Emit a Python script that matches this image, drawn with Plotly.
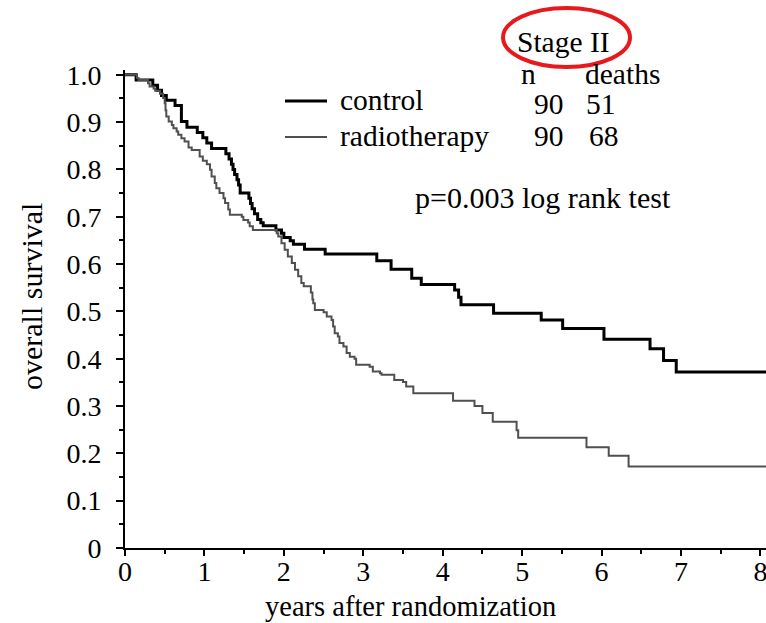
import plotly.graph_objects as go

# ---- data ----
control_t = [0, 0.14, 0.35, 0.41, 0.46, 0.52, 0.63, 0.71, 0.78, 0.91, 0.98, 1.03, 1.09,
             1.27, 1.31, 1.34, 1.36, 1.38, 1.41, 1.43, 1.45, 1.56, 1.58, 1.60, 1.63, 1.67,
             1.71, 1.74, 1.90, 1.97, 2.00, 2.08, 2.12, 2.26, 2.52, 3.17, 3.35, 3.61, 3.73,
             4.15, 4.20, 4.23, 4.64, 5.24, 5.51, 6.03, 6.61, 6.78, 6.94, 8.07]
control_s = [1.0, 0.989, 0.978, 0.967, 0.956, 0.946, 0.935, 0.901, 0.889, 0.878, 0.867, 0.856, 0.844,
             0.833, 0.822, 0.811, 0.800, 0.789, 0.778, 0.767, 0.750, 0.739, 0.728, 0.717, 0.706, 0.694,
             0.687, 0.681, 0.672, 0.665, 0.656, 0.649, 0.642, 0.631, 0.621, 0.607, 0.589, 0.570, 0.557,
             0.545, 0.530, 0.514, 0.496, 0.482, 0.464, 0.441, 0.421, 0.396, 0.372, 0.372]

radio_t = [0, 0.15, 0.17, 0.29, 0.31, 0.36, 0.38, 0.44, 0.48, 0.50, 0.51, 0.52, 0.55, 0.59, 0.61,
           0.65, 0.67, 0.71, 0.75, 0.80, 0.84, 0.94, 0.98, 1.03, 1.07, 1.09, 1.13, 1.15, 1.19,
           1.24, 1.26, 1.30, 1.32, 1.47, 1.49, 1.55, 1.57, 1.61, 1.91, 1.93, 1.97, 2.01, 2.05,
           2.10, 2.14, 2.18, 2.22, 2.25, 2.34, 2.36, 2.37, 2.39, 2.50, 2.54, 2.60, 2.62, 2.64,
           2.68, 2.70, 2.75, 2.79, 2.83, 2.89, 2.91, 3.08, 3.12, 3.21, 3.23, 3.39, 3.50, 3.54,
           3.63, 4.13, 4.40, 4.50, 4.63, 4.93, 4.95, 5.81, 6.09, 6.34, 8.07]
radio_s = [1.0, 0.993, 0.989, 0.982, 0.975, 0.971, 0.966, 0.960, 0.951, 0.940, 0.925, 0.912, 0.901,
           0.894, 0.887, 0.880, 0.873, 0.866, 0.859, 0.846, 0.841, 0.827, 0.818, 0.811, 0.799,
           0.785, 0.771, 0.760, 0.750, 0.739, 0.729, 0.715, 0.704, 0.700, 0.693, 0.688, 0.680,
           0.672, 0.665, 0.658, 0.644, 0.630, 0.616, 0.602, 0.588, 0.574, 0.560, 0.553, 0.540,
           0.525, 0.517, 0.503, 0.498, 0.489, 0.482, 0.468, 0.454, 0.447, 0.433, 0.426, 0.412,
           0.404, 0.400, 0.387, 0.383, 0.373, 0.369, 0.366, 0.355, 0.351, 0.341, 0.327, 0.311,
           0.300, 0.285, 0.267, 0.249, 0.233, 0.213, 0.195, 0.172, 0.172]

y_tickvals = [0, 0.1, 0.2, 0.3, 0.4, 0.5, 0.6, 0.7, 0.8, 0.9, 1.0]
y_ticktext = ["0", "0.1", "0.2", "0.3", "0.4", "0.5", "0.6", "0.7", "0.8", "0.9", "1.0"]
x_tickvals = [0, 1, 2, 3, 4, 5, 6, 7, 8]
x_ticktext = ["0", "1", "2", "3", "4", "5", "6", "7", "8"]

groups = ["control", "radiotherapy"]
n_vals = ["90", "90"]
deaths_vals = ["51", "68"]

FONT = "Liberation Serif"
W, H = 766, 623
L, R, T, B = 125, 0, 70, 75
RADIO_COLOR = "#505050"

def X(px):
    return (px - L) / (W - L - R)

def Y(py):
    return (H - B - py) / (H - T - B)

fig = go.Figure()
fig.add_trace(go.Scatter(x=control_t, y=control_s, mode="lines", line_shape="hv",
                         line=dict(color="black", width=3), showlegend=False))
fig.add_trace(go.Scatter(x=radio_t, y=radio_s, mode="lines", line_shape="hv",
                         line=dict(color=RADIO_COLOR, width=2), showlegend=False))

ann = []
def txt(s, x, y, xanchor="center", size=29.5, **kw):
    ann.append(dict(text=s, x=X(x), y=Y(y), xref="paper", yref="paper", showarrow=False,
                    xanchor=xanchor, yanchor="middle", font=dict(family=FONT, size=size, color="black"), **kw))

txt("Stage II", 563, 42)
txt("n", 528, 74)
txt("deaths", 622, 74)
txt(groups[0], 338, 100, xanchor="left")
txt(groups[1], 338, 136, xanchor="left")
txt(n_vals[0], 549, 104)
txt(deaths_vals[0], 601, 104)
txt(n_vals[1], 549, 136)
txt(deaths_vals[1], 604, 136)
txt("p=0.003 log rank test", 413, 197, xanchor="left", size=30)
txt("years after randomization", 410, 606, size=28.5)
txt("overall survival", 31, 297, size=30, textangle=-90)

shapes = [
    dict(type="line", xref="paper", yref="paper", x0=X(285), x1=X(327), y0=Y(101), y1=Y(101),
         line=dict(color="black", width=3)),
    dict(type="line", xref="paper", yref="paper", x0=X(285), x1=X(327), y0=Y(137), y1=Y(137),
         line=dict(color=RADIO_COLOR, width=2)),
    dict(type="circle", xref="paper", yref="paper", x0=X(503), x1=X(630), y0=Y(67), y1=Y(8),
         line=dict(color="#e8191c", width=4)),
]

fig.update_layout(
    width=W, height=H,
    margin=dict(l=L, r=R, t=T, b=B, pad=0),
    paper_bgcolor="white", plot_bgcolor="white",
    annotations=ann, shapes=shapes,
    xaxis=dict(range=[0, 8.07], tickvals=x_tickvals, ticktext=x_ticktext,
               showgrid=False, zeroline=False, showline=True, linecolor="black", linewidth=2,
               ticks="outside", ticklen=6, tickwidth=2, tickcolor="black",
               minor=dict(dtick=0.5, tick0=0, ticks="outside", ticklen=4, tickwidth=2, tickcolor="black"),
               ticklabelstandoff=-9, ticklabeloverflow="allow",
               tickfont=dict(family=FONT, size=28, color="black")),
    yaxis=dict(range=[0, 1.01], tickvals=y_tickvals, ticktext=y_ticktext,
               showgrid=False, zeroline=False, showline=True, linecolor="black", linewidth=2,
               ticks="outside", ticklen=7, tickwidth=2, tickcolor="black",
               minor=dict(dtick=0.05, tick0=0, ticks="outside", ticklen=4, tickwidth=2, tickcolor="black"),
               ticklabelstandoff=9,
               tickfont=dict(family=FONT, size=28, color="black")),
)

fig.write_html("out.html")
